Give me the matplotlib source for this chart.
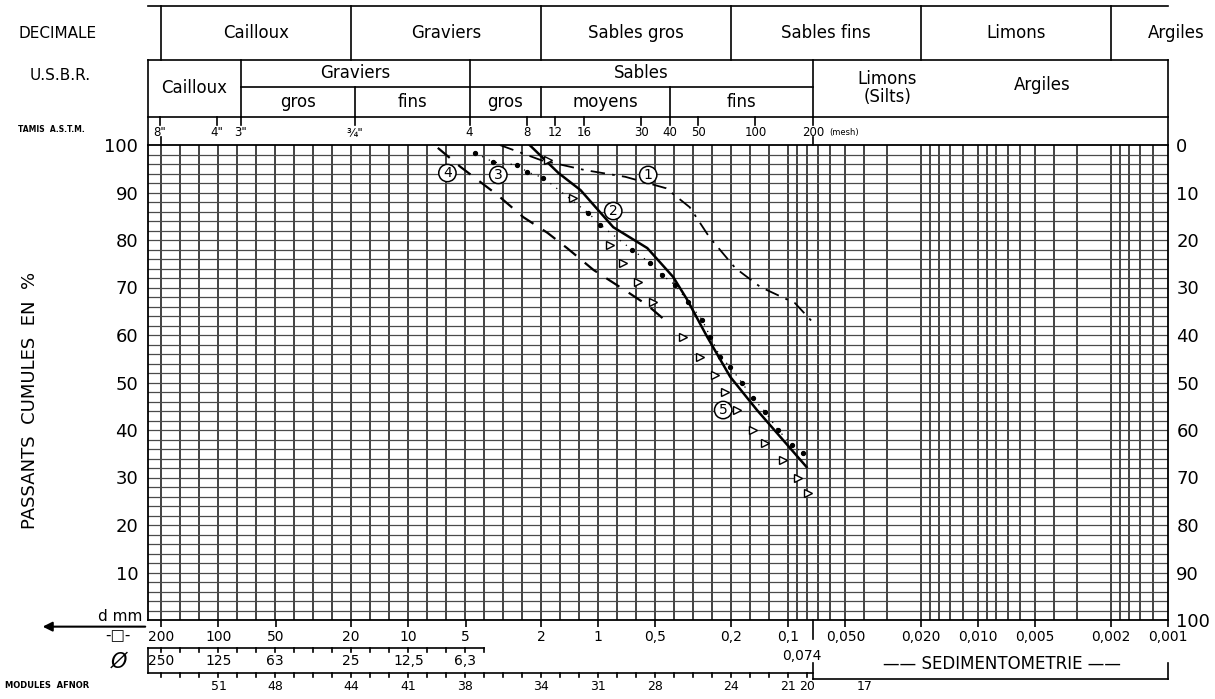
import numpy as np
import matplotlib.pyplot as plt
from matplotlib.ticker import NullLocator
from matplotlib.transforms import blended_transform_factory

# courbes granulometriques : diametre d (mm) et passants cumules (%)
c1_d = [3.3, 2.0, 1.17, 0.72, 0.44, 0.33, 0.26, 0.19, 0.14, 0.092, 0.072]
c1_p = [100, 96.8, 94.7, 93.3, 90.9, 86.9, 80.6, 74.1, 70.1, 66.7, 62.1]

c2_d = [2.3, 1.62, 1.24, 0.834, 0.552, 0.403, 0.340, 0.267, 0.202, 0.146, 0.08]
c2_p = [100, 94.1, 90.5, 82.7, 78.3, 72.2, 67.4, 59.6, 51.2, 44.2, 32.2]

c3_d = [4.44, 3.57, 2.67, 2.36, 1.95, 1.13, 0.976, 0.662, 0.533, 0.46, 0.393,
        0.336, 0.284, 0.257, 0.228, 0.202, 0.175, 0.153, 0.132, 0.113, 0.095, 0.084]
c3_p = [98.3, 96.4, 95.8, 94.3, 93.1, 85.7, 83.2, 77.9, 75.2, 72.6, 70.5,
        66.9, 63.2, 59.6, 55.4, 53.3, 49.9, 46.7, 43.8, 40.0, 36.8, 35.2]

c4_d = [7.0, 5.32, 3.40, 2.48, 1.85, 1.46, 1.06, 0.704, 0.552, 0.433]
c4_p = [99.4, 95.4, 89.5, 84.8, 81.5, 78.3, 73.7, 69.1, 66.3, 62.7]

c5_d = [1.85, 1.355, 0.865, 0.739, 0.616, 0.514, 0.357, 0.291, 0.242, 0.215,
        0.185, 0.153, 0.132, 0.106, 0.0886, 0.0786]
c5_p = [96.8, 88.8, 78.9, 75.2, 71.2, 66.9, 59.6, 55.4, 51.6, 48.0,
        44.2, 40.0, 37.3, 33.7, 29.9, 26.7]

# reperes des courbes
lab_num = ['1', '2', '3', '4', '5']
lab_d = [0.546, 0.834, 3.36, 6.23, 0.220]
lab_p = [93.7, 86.1, 93.7, 94.1, 44.2]

# classifications
dec_bounds = [200, 20, 2, 0.2, 0.02, 0.002]
dec_names = ['Cailloux', 'Graviers', 'Sables gros', 'Sables fins', 'Limons', 'Argiles']

usbr_main = [76.2, 4.76, 0.074]
usbr_sub = [19.05, 2.0, 0.42]

astm_labels = ['8"', '4"', '3"', '¾"', '4', '8', '12', '16', '30', '40', '50', '100', '200']
astm_d = [203.2, 101.6, 76.2, 19.05, 4.76, 2.38, 1.68, 1.19, 0.595, 0.42, 0.297, 0.149, 0.074]

sq_d = [200, 100, 50, 20, 10, 5, 2, 1, 0.5, 0.2, 0.1,
        0.05, 0.02, 0.01, 0.005, 0.002, 0.001]
sq_lab = ['200', '100', '50', '20', '10', '5', '2', '1', '0,5', '0,2', '0,1',
          '0,050', '0,020', '0,010', '0,005', '0,002', '0,001']

rd_d = [250, 125, 63, 25, 12.5, 6.3]
rd_lab = ['250', '125', '63', '25', '12,5', '6,3']

mod_lab = [51, 48, 44, 41, 38, 34, 31, 28, 24, 21, 20, 17]

# grille : modules AFNOR (serie R10) puis grille log classique
afnor_mods = np.arange(54, 20, -1)
sed_grid = [0.09, 0.08, 0.07, 0.06, 0.05, 0.04, 0.03, 0.02, 0.018, 0.016, 0.014, 0.012,
            0.01, 0.009, 0.008, 0.007, 0.006, 0.005, 0.004, 0.003, 0.002,
            0.0018, 0.0016, 0.0014, 0.0012]


def module_to_mm(m):
    return 10 ** ((np.asarray(m) - 1) / 10.0) / 1000.0


XL, XR = 235, 0.001

fig = plt.figure(figsize=(12.15, 6.99), dpi=100)
ax = fig.add_axes([148 / 1215, 1 - 620 / 699, 1020 / 1215, 475 / 699])
ax.set_xscale('log')
ax.set_xlim(XL, XR)
ax.set_ylim(0, 100)
tr = blended_transform_factory(ax.transData, ax.transAxes)

for d in list(module_to_mm(afnor_mods)) + sed_grid:
    ax.axvline(d, color='#222222', lw=1.2, zorder=1)
for p in range(2, 100, 2):
    ax.axhline(p, color='#4a4a4a', lw=0.9, zorder=1)

for s in ax.spines.values():
    s.set_linewidth(1.3)

# courbes
ax.plot(c1_d, c1_p, color='k', lw=1.3, ls=(0, (8, 4, 1.5, 4)), zorder=3)
ax.plot(c2_d, c2_p, color='k', lw=1.8, zorder=3)
ax.plot(c3_d, c3_p, color='k', lw=0.9, ls=(0, (1, 5)), marker='o', ms=2.8, zorder=3)
ax.plot(c4_d, c4_p, color='k', lw=1.6, ls=(0, (7, 5)), zorder=3)
ax.plot(c5_d, c5_p, color='k', ls='none', marker='>', ms=5.5, mfc='white', mew=1.0, zorder=3)

for n, d, p in zip(lab_num, lab_d, lab_p):
    ax.text(d, p, n, ha='center', va='center', fontsize=10, zorder=4,
            bbox=dict(boxstyle='circle,pad=0.12', fc='white', ec='k', lw=1.1))

# axe des x (tamis carres)
ax.set_xticks(sq_d)
ax.set_xticklabels(sq_lab)
ax.xaxis.set_minor_locator(NullLocator())
ax.tick_params(axis='x', length=5, width=1.2, pad=2, labelsize=10)

ax.set_yticks(range(10, 101, 10))
ax.tick_params(axis='y', length=0, pad=7, labelsize=13)

ax2 = ax.twinx()
ax2.set_ylim(100, 0)
ax2.set_yticks(range(0, 101, 10))
ax2.tick_params(axis='y', length=0, pad=6, labelsize=13)
for s in ax2.spines.values():
    s.set_visible(False)

kw = dict(color='k', lw=1.2, transform=tr, clip_on=False)

# --- en-tete : DECIMALE
ax.plot([XL, XR], [1.2926, 1.2926], **kw)
for b in dec_bounds:
    ax.plot([b, b], [1.1789, 1.2926], **kw)
for i, name in enumerate(dec_names):
    if i + 1 < len(dec_bounds):
        xc = np.sqrt(dec_bounds[i] * dec_bounds[i + 1])
    else:
        xc = 0.0009
    ax.text(xc, 1.2358, name, ha='center', va='center', fontsize=12, transform=tr)

# --- en-tete : U.S.B.R.
ax.plot([XL, XR], [1.1789, 1.1789], **kw)
ax.plot([XL, XR], [1.0589, 1.0589], **kw)
ax.plot([usbr_main[0], usbr_main[-1]], [1.1221, 1.1221], **kw)
for b in usbr_main:
    ax.plot([b, b], [1.0589, 1.1789], **kw)
for b in usbr_sub:
    ax.plot([b, b], [1.0589, 1.1221], **kw)
for b in [XL, XR]:
    ax.plot([b, b], [1.0, 1.1789], **kw)

ax.text(np.sqrt(XL * usbr_main[0]), 1.12, 'Cailloux', ha='center', va='center', fontsize=12, transform=tr)
ax.text(np.sqrt(usbr_main[0] * usbr_main[1]), 1.1516, 'Graviers', ha='center', va='center', fontsize=12, transform=tr)
ax.text(np.sqrt(usbr_main[1] * usbr_main[2]), 1.1516, 'Sables', ha='center', va='center', fontsize=12, transform=tr)
sub_edges = [usbr_main[0], usbr_sub[0], usbr_main[1], usbr_sub[1], usbr_sub[2], usbr_main[2]]
sub_names = ['gros', 'fins', 'gros', 'moyens', 'fins']
for i, name in enumerate(sub_names):
    ax.text(np.sqrt(sub_edges[i] * sub_edges[i + 1]), 1.0905, name,
            ha='center', va='center', fontsize=12, transform=tr)
ax.text(0.03, 1.12, 'Limons\n(Silts)', ha='center', va='center', fontsize=12,
        linespacing=0.95, transform=tr)
ax.text(0.0046, 1.126, 'Argiles', ha='center', va='center', fontsize=12, transform=tr)

# --- tamis A.S.T.M.
for lab, d in zip(astm_labels, astm_d):
    ax.plot([d, d], [1.0589, 1.042], **kw)
    ax.text(d, 1.027, lab, ha='center', va='center', fontsize=8.5, transform=tr)
ax.annotate('(mesh)', xy=(0.074, 1.027), xycoords=tr, xytext=(12, 0),
            textcoords='offset points', ha='left', va='center', fontsize=6)
for d in [200, 0.074]:
    ax.plot([d, d], [1.0, 1.017], **kw)

# --- sous l'axe : tamis ronds et modules AFNOR
ax.plot([XL, 4.0], [-0.0589, -0.0589], **kw)
for d in module_to_mm(np.arange(54, 36, -1)):
    ax.plot([d, d], [-0.0589, -0.068], **kw)
for lab, d in zip(rd_lab, rd_d):
    ax.text(d / 1.25, -0.0863, lab, ha='center', va='center', fontsize=10, transform=tr)
ax.plot([XL, XL], [-0.0589, -0.112], **kw)

ax.plot([XL, 0.074], [-0.112, -0.112], **kw)
for d in module_to_mm(np.arange(54, 19, -1)):
    ax.plot([d, d], [-0.112, -0.121], **kw)
for m in mod_lab:
    ax.text(module_to_mm(m), -0.139, str(m), ha='center', va='center', fontsize=9, transform=tr)

# --- sedimentometrie
ax.plot([0.074, 0.074], [0.0, -0.04], **kw)
ax.plot([0.074, 0.074], [-0.09, -0.124], **kw)
ax.plot([0.074, XR], [-0.124, -0.124], **kw)
ax.plot([XR, XR], [-0.09, -0.124], **kw)
ax.text(0.0844, -0.0758, '0,074', ha='center', va='center', fontsize=10, transform=tr)
ax.text(0.0075, -0.0926, '—— SEDIMENTOMETRIE ——', ha='center', va='center', fontsize=12, transform=tr)

# --- textes de gauche
ax.text(-0.006, 0.008, 'd mm', ha='right', va='center', fontsize=11, transform=ax.transAxes)
ax.annotate('', xy=(-0.106, -0.014), xytext=(0.0, -0.014), xycoords='axes fraction',
            arrowprops=dict(arrowstyle='-|>', color='k', lw=1.5, mutation_scale=14))
ax.text(-0.029, -0.034, '-□-', ha='center', va='center', fontsize=11, transform=ax.transAxes)
ax.text(-0.029, -0.0884, 'Ø', ha='center', va='center', fontsize=15, style='italic',
        transform=ax.transAxes)

fig.text(18 / 1215, 1 - 33 / 699, 'DECIMALE', ha='left', va='center', fontsize=11)
fig.text(30 / 1215, 1 - 75 / 699, 'U.S.B.R.', ha='left', va='center', fontsize=11)
fig.text(18 / 1215, 1 - 130 / 699, 'TAMIS  A.S.T.M.', ha='left', va='center', fontsize=5.5,
         weight='bold')
fig.text(5 / 1215, 1 - 686 / 699, 'MODULES  AFNOR', ha='left', va='center', fontsize=6,
         weight='bold')
fig.text(30 / 1215, 1 - 400 / 699, 'PASSANTS  CUMULES  EN  %', ha='center', va='center',
         rotation=90, fontsize=13)

fig.savefig('out.png', dpi=100, facecolor='white')
